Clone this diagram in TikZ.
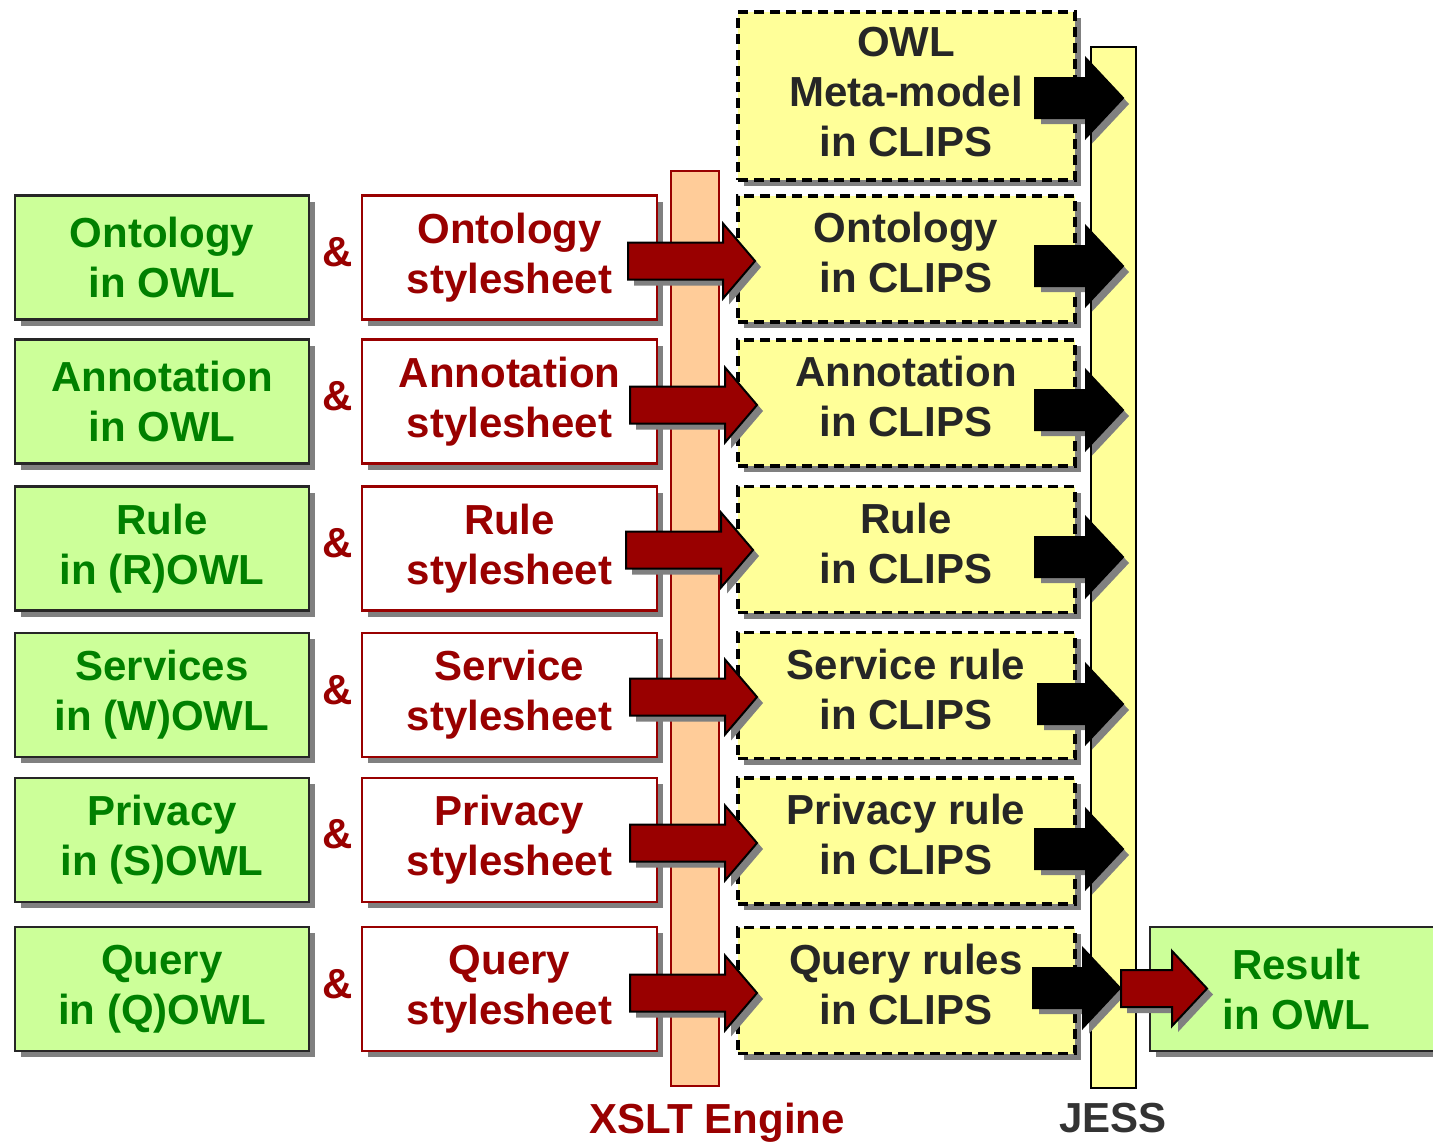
\documentclass[tikz,border=0pt]{standalone}
\usepackage{fontspec}
\setmainfont{Liberation Sans}
\usetikzlibrary{shadows}

\definecolor{owlgreen}{HTML}{CCFF99}
\definecolor{txtgreen}{HTML}{008000}
\definecolor{darkred}{HTML}{990000}
\definecolor{peach}{HTML}{FFCC99}
\definecolor{paleyellow}{HTML}{FFFF99}
\definecolor{shadowgray}{HTML}{808080}
\definecolor{jessgray}{HTML}{333333}
\definecolor{clipstext}{HTML}{262626}

% block arrow with a flat grey shadow:
% #1 fill, #2 tail x, #3 centre y, #4 tip x, #5 half shaft, #6 half head, #7 head length
\newcommand\blockarrow[7]{%
  \fill[shadowgray]
    ({#2+6},{#3-#5+6}) -- ({#4-#7+6},{#3-#5+6}) -- ({#4-#7+6},{#3-#6+6}) --
    ({#4+6},{#3+6}) -- ({#4-#7+6},{#3+#6+6}) -- ({#4-#7+6},{#3+#5+6}) --
    ({#2+6},{#3+#5+6}) -- cycle;
  \filldraw[fill=#1, draw=black, line width=1pt, line join=miter]
    (#2,{#3-#5}) -- ({#4-#7},{#3-#5}) -- ({#4-#7},{#3-#6}) --
    (#4,#3) -- ({#4-#7},{#3+#6}) -- ({#4-#7},{#3+#5}) --
    (#2,{#3+#5}) -- cycle;}

\begin{document}
\begin{tikzpicture}[x=0.5pt,y=-0.5pt,
  lbl/.style={font=\fontsize{21}{25}\selectfont\bfseries, align=center},
  shade/.style={drop shadow={shadow xshift=3pt, shadow yshift=-3pt, fill=shadowgray, opacity=1}},
  srcbox/.style={lbl, shade, draw=black!85, line width=1.2pt, fill=owlgreen, text=txtgreen,
    minimum width=147pt, minimum height=62pt, inner sep=0pt},
  sheetbox/.style={lbl, shade, draw=darkred, line width=1.1pt, fill=white, text=darkred,
    minimum width=147.5pt, minimum height=62pt, inner sep=0pt},
  clipsbox/.style={shade, draw=black, dash pattern=on 5pt off 3pt, line width=1.7pt,
    fill=paleyellow, minimum width=168.5pt, minimum height=63pt, inner sep=0pt},
  clipstxt/.style={lbl, text=clipstext},
  amp/.style={lbl, text=darkred},
  bar/.style={line width=1.1pt},
]
\useasboundingbox (0,0) rectangle (1433,1141);

% engine bars
\node[bar, draw=darkred, fill=peach, minimum width=24pt, minimum height=457.5pt, inner sep=0pt]
  (xslt) at (695,628.5) {};
\node[bar, draw=black, fill=paleyellow, minimum width=22.5pt, minimum height=520.5pt, inner sep=0pt]
  (jess) at (1113.5,567.5) {};
\node[lbl, text=darkred, anchor=north] (xsltlbl) at (717,1096) {XSLT Engine};
\node[lbl, text=jessgray, anchor=north] (jesslbl) at (1113,1096) {JESS};

% sources in OWL
\node[srcbox] (s1) at (162,257.5) {Ontology\\in OWL};
\node[srcbox] (s2) at (162,401.5) {Annotation\\in OWL};
\node[srcbox] (s3) at (162,548.5) {Rule\\in (R)OWL};
\node[srcbox] (s4) at (162,695) {Services\\in (W)OWL};
\node[srcbox] (s5) at (162,840) {Privacy\\in (S)OWL};
\node[srcbox] (s6) at (162,989) {Query\\in (Q)OWL};

% ampersands
\node[amp] (a1) at (338,252) {\&};
\node[amp] (a2) at (338,396) {\&};
\node[amp] (a3) at (338,543) {\&};
\node[amp] (a4) at (338,690) {\&};
\node[amp] (a5) at (338,834) {\&};
\node[amp] (a6) at (338,984) {\&};

% stylesheets
\node[sheetbox] (t1) at (509.5,257.5) {Ontology\\stylesheet};
\node[sheetbox] (t2) at (509.5,401.5) {Annotation\\stylesheet};
\node[sheetbox] (t3) at (509.5,548.5) {Rule\\stylesheet};
\node[sheetbox] (t4) at (509.5,695) {Service\\stylesheet};
\node[sheetbox] (t5) at (509.5,840) {Privacy\\stylesheet};
\node[sheetbox] (t6) at (509.5,989) {Query\\stylesheet};

% CLIPS results (boxes, then their labels set slightly above centre)
\node[clipsbox, minimum height=84pt] (c0) at (906.5,96) {};
\node[clipsbox] (c1) at (906.5,259) {};
\node[clipsbox] (c2) at (906.5,403) {};
\node[clipsbox] (c3) at (906.5,549.5) {};
\node[clipsbox] (c4) at (906.5,695.5) {};
\node[clipsbox] (c5) at (906.5,841) {};
\node[clipsbox] (c6) at (906.5,990.5) {};
\node[clipstxt] (c0t) at (906,92) {OWL\\Meta-model\\in CLIPS};
\node[clipstxt] (c1t) at (906,252.5) {Ontology\\in CLIPS};
\node[clipstxt] (c2t) at (906,396.5) {Annotation\\in CLIPS};
\node[clipstxt] (c3t) at (906,543) {Rule\\in CLIPS};
\node[clipstxt] (c4t) at (906,689) {Service rule\\in CLIPS};
\node[clipstxt] (c5t) at (906,834) {Privacy rule\\in CLIPS};
\node[clipstxt] (c6t) at (906,984) {Query rules\\in CLIPS};

% final result (runs past the right edge)
\node[srcbox, minimum width=146pt, anchor=west] (res) at (1149,989) {Result\\in OWL};

% stylesheet -> CLIPS (through XSLT)
\blockarrow{darkred}{628}{261}{755}{18.5}{37.5}{32}
\blockarrow{darkred}{630}{405}{757}{18.5}{37.5}{32}
\blockarrow{darkred}{626}{550}{753}{18.5}{37.5}{32}
\blockarrow{darkred}{630}{697}{757}{18.5}{37.5}{32}
\blockarrow{darkred}{630}{843}{757}{18.5}{37.5}{32}
\blockarrow{darkred}{630}{993}{757}{18.5}{37.5}{32}

% CLIPS -> JESS
\blockarrow{black}{1035}{98}{1123}{20}{39.5}{37}
\blockarrow{black}{1035}{266}{1123}{20}{39.5}{37}
\blockarrow{black}{1035}{410}{1123}{20}{39.5}{37}
\blockarrow{black}{1035}{557}{1123}{20}{39.5}{37}
\blockarrow{black}{1038}{704}{1123}{20}{39.5}{37}
\blockarrow{black}{1035}{849}{1123}{20}{39.5}{37}
\blockarrow{black}{1033}{988}{1120}{20}{39.5}{37}

% JESS -> result
\blockarrow{darkred}{1121}{988.5}{1207}{18.5}{37.5}{35}
\end{tikzpicture}
\end{document}
